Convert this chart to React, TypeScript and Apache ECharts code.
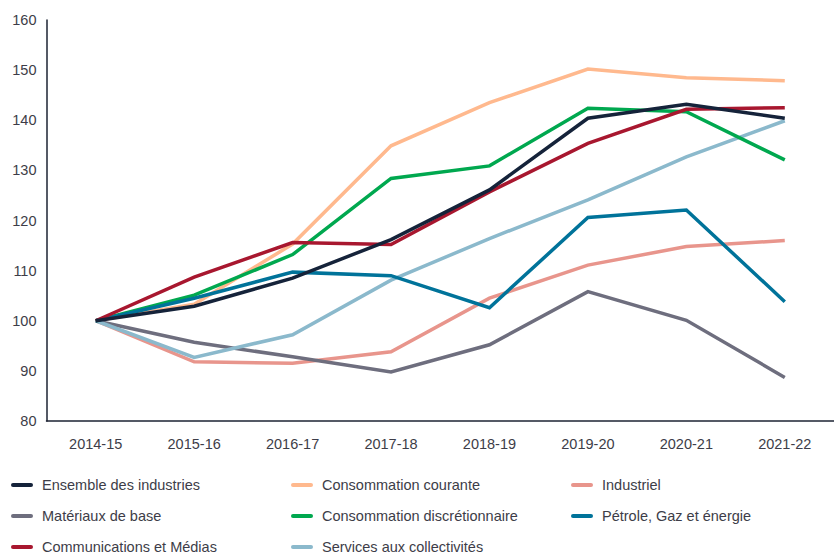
import React, { useEffect, useRef } from "react";
import * as echarts from "echarts";

const categories = ["2014-15", "2015-16", "2016-17", "2017-18", "2018-19", "2019-20", "2020-21", "2021-22"];

const ensemble = [100, 102.9, 108.5, 116.2, 126.1, 140.4, 143.2, 140.4];
const consoCourante = [100, 103.3, 115.3, 134.9, 143.5, 150.2, 148.5, 147.9];
const industriel = [100, 91.8, 91.5, 93.8, 104.5, 111.1, 114.8, 116.0];
const materiaux = [100, 95.7, 92.8, 89.8, 95.2, 105.8, 100.1, 88.7];
const consoDiscr = [100, 105.1, 113.2, 128.4, 130.9, 142.4, 141.7, 132.1];
const petrole = [100, 104.5, 109.7, 109.0, 102.6, 120.6, 122.1, 103.8];
const communications = [100, 108.7, 115.6, 115.2, 125.7, 135.4, 142.2, 142.5];
const services = [100, 92.7, 97.2, 108.1, 116.4, 124.1, 132.7, 139.9];

const yTicks = { min: 80, max: 160, interval: 10 };

const seriesDefs = [
  { name: "Ensemble des industries", data: ensemble, color: "#15233a", z: 10 },
  { name: "Consommation courante", data: consoCourante, color: "#ffb98e", z: 2 },
  { name: "Industriel", data: industriel, color: "#e8958c", z: 2 },
  { name: "Matériaux de base", data: materiaux, color: "#6e6e7e", z: 2 },
  { name: "Consommation discrétionnaire", data: consoDiscr, color: "#00a84f", z: 3 },
  { name: "Pétrole, Gaz et énergie", data: petrole, color: "#00739a", z: 3 },
  { name: "Communications et Médias", data: communications, color: "#a8172f", z: 4 },
  { name: "Services aux collectivités", data: services, color: "#8bb9cc", z: 2 },
];

const FONT = "'Liberation Sans', Arial, sans-serif";
const TEXT = "#3d3d48";
const ICON = "path://M2,0H20A2,2,0,0,1,20,4H2A2,2,0,0,1,2,0Z";

function legendCol(left: number, names: string[]) {
  return {
    left,
    top: 477,
    height: 100,
    padding: 0,
    orient: "vertical",
    itemWidth: 22,
    itemHeight: 4,
    itemGap: 15,
    icon: ICON,
    selectedMode: false,
    data: names,
    textStyle: {
      color: TEXT,
      fontSize: 14.5,
      fontFamily: FONT,
      lineHeight: 16,
      padding: [0, 0, 0, 4],
    },
  };
}

export default function App() {
  const ref = useRef<HTMLDivElement>(null);
  useEffect(() => {
    document.body.style.margin = "0";
    const chart = echarts.init(ref.current!, null, { renderer: "svg" });
    chart.setOption({
      animation: false,
      backgroundColor: "#ffffff",
      grid: { left: 46.5, right: -4.5, top: 20, bottom: 134, containLabel: false },
      legend: [
        legendCol(11, [seriesDefs[0].name, seriesDefs[3].name, seriesDefs[6].name]),
        legendCol(291, [seriesDefs[1].name, seriesDefs[4].name, seriesDefs[7].name]),
        legendCol(571, [seriesDefs[2].name, seriesDefs[5].name]),
      ],
      xAxis: {
        type: "category",
        data: categories,
        boundaryGap: true,
        axisLine: { lineStyle: { color: "#1c2333", width: 1.5 } },
        axisTick: { show: false },
        axisLabel: { color: TEXT, fontSize: 14.5, fontFamily: FONT, margin: 15 },
        splitLine: { show: false },
      },
      yAxis: {
        type: "value",
        min: yTicks.min,
        max: yTicks.max,
        interval: yTicks.interval,
        axisLine: { show: true, lineStyle: { color: "#1c2333", width: 1.5 } },
        axisTick: { show: false },
        axisLabel: { color: TEXT, fontSize: 14.5, fontFamily: FONT, margin: 10 },
        splitLine: { show: false },
      },
      series: seriesDefs.map((s) => ({
        name: s.name,
        type: "line",
        data: s.data,
        z: s.z,
        symbol: "none",
        lineStyle: { color: s.color, width: 3.5, join: "miter" },
        itemStyle: { color: s.color },
      })),
    });
    return () => chart.dispose();
  }, []);
  return <div ref={ref} style={{ width: 834, height: 555 }} />;
}
